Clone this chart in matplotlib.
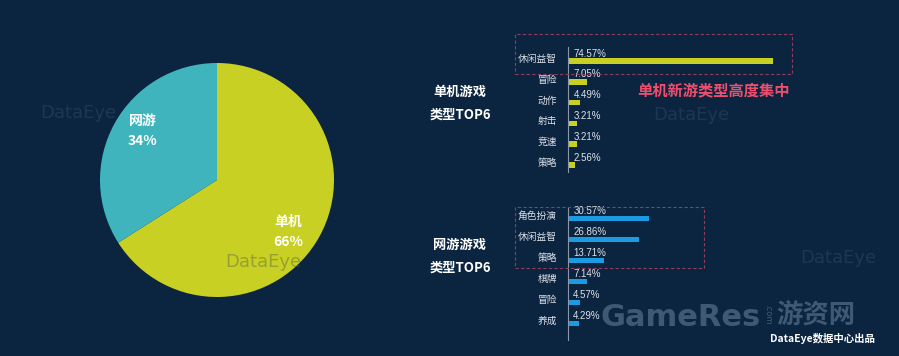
import matplotlib
matplotlib.use("Agg")
import matplotlib.pyplot as plt
import matplotlib.patches as mpatches

plt.rcParams["font.family"] = ["Noto Sans CJK SC", "DejaVu Sans"]

# data
pie_labels = ["单机", "网游"]
pie_values = [66, 34]

solo_types = ["休闲益智", "冒险", "动作", "射击", "竞速", "策略"]
solo_share = [74.57, 7.05, 4.49, 3.21, 3.21, 2.56]

online_types = ["角色扮演", "休闲益智", "策略", "棋牌", "冒险", "养成"]
online_share = [30.57, 26.86, 13.71, 7.14, 4.57, 4.29]

BG = "#0b2440"
YELLOW = "#c8d024"
TEAL = "#3fb4bc"
BLUE = "#1b9be2"
W, H = 899, 356


def px_axes(fig, x0, y0, x1, y1):
    # pixel box (top-left origin) -> figure axes
    return fig.add_axes([x0 / W, 1 - y1 / H, (x1 - x0) / W, (y1 - y0) / H])


fig = plt.figure(figsize=(W / 100, H / 100), dpi=100, facecolor=BG)

# background layer for faint watermarks (sits under the pie)
bg = fig.add_axes([0, 0, 1, 1], zorder=-1)
bg.set_xlim(0, W)
bg.set_ylim(H, 0)
bg.axis("off")
for (wx, wy) in [(40, 113), (653, 115), (800, 258)]:
    bg.text(wx, wy, "DataEye", color="#2c4362", alpha=0.6,
            fontsize=13, ha="left", va="center", family="DejaVu Sans")
bg.text(601, 317, "GameRes", color="#3f5873", fontsize=22,
        fontweight="bold", ha="left", va="center", family="DejaVu Sans")
bg.text(768, 314, ".com", color="#3f5873", fontsize=6,
        rotation=-90, ha="center", va="center", family="DejaVu Sans")
bg.text(776, 315, "游资网", color="#3f5873", fontsize=19,
        fontweight="bold", ha="left", va="center")

# pie
ax_pie = px_axes(fig, 100, 63, 334, 297)
ax_pie.pie(pie_values, colors=[YELLOW, TEAL], startangle=90, counterclock=False,
           radius=1.0, wedgeprops=dict(linewidth=0))
ax_pie.set_xlim(-1, 1)
ax_pie.set_ylim(-1, 1)
ax_pie.set_aspect("equal")
ax_pie.axis("off")
# watermark showing through the yellow slice
fig.text(225 / W, 1 - 262 / H, "DataEye", color="#5a6a3a", alpha=0.45,
         fontsize=13, ha="left", va="center", family="DejaVu Sans")
fig.text(288 / W, 1 - 222 / H, pie_labels[0], color="white", fontsize=10,
         fontweight="bold", ha="center", va="center")
fig.text(288 / W, 1 - 242 / H, f"{pie_values[0]}%", color="white", fontsize=10,
         fontweight="bold", ha="center", va="center")
fig.text(143 / W, 1 - 121 / H, pie_labels[1], color="white", fontsize=10,
         fontweight="bold", ha="center", va="center")
fig.text(143 / W, 1 - 141 / H, f"{pie_values[1]}%", color="white", fontsize=10,
         fontweight="bold", ha="center", va="center")


def bar_panel(y_top, y_bot, row0, row_step, scale, names, vals, color):
    ax = px_axes(fig, 568, y_top, 800, y_bot)
    ax.set_facecolor("none")
    n = len(names)
    ax.barh(range(n), vals, height=5.5 / row_step, color=color, linewidth=0)
    ax.set_xlim(0, 232 / scale)
    ax.set_ylim((y_bot - row0) / row_step, -(row0 - y_top) / row_step)
    for s in ["top", "right", "bottom"]:
        ax.spines[s].set_visible(False)
    ax.spines["left"].set_color("#8a97a8")
    ax.spines["left"].set_linewidth(0.8)
    ax.set_xticks([])
    ax.set_yticks([i - 0.15 for i in range(n)])
    ax.set_yticklabels(names, color="#dde2e8", fontsize=7)
    ax.tick_params(axis="y", length=0, pad=8)
    for i, v in enumerate(vals):
        ax.text(2, i - 0.36, f"{v:.2f}%", color="#dde2e8", fontsize=7,
                ha="left", va="center", family=["Liberation Sans", "DejaVu Sans"])
    return ax


bar_panel(47, 172, 61, 20.8, 2.75, solo_types, solo_share, YELLOW)
bar_panel(208, 340, 218.5, 21, 2.65, online_types, online_share, BLUE)

# highlight boxes
for (x0, y0, x1, y1) in [(515, 34, 792, 74), (515, 207, 704, 268)]:
    fig.add_artist(mpatches.Rectangle((x0 / W, 1 - y1 / H), (x1 - x0) / W, (y1 - y0) / H,
                                      transform=fig.transFigure, fill=False,
                                      edgecolor="#8c3d5c", linewidth=0.8, linestyle=(0, (3, 2))))

# titles
for txt, y in [("单机游戏", 92), ("类型TOP6", 115), ("网游游戏", 245), ("类型TOP6", 268)]:
    fig.text(460 / W, 1 - y / H, txt, color="white", fontsize=9.5, fontweight="bold",
             ha="center", va="center")
fig.text(713 / W, 1 - 90 / H, "单机新游类型高度集中", color="#ef4f6c", fontsize=11,
         fontweight="bold", ha="center", va="center")
fig.text(822 / W, 1 - 339 / H, "DataEye数据中心出品", color="white", fontsize=7.5,
         fontweight="bold", ha="center", va="center")

fig.savefig("out.png", dpi=100, facecolor=BG)
